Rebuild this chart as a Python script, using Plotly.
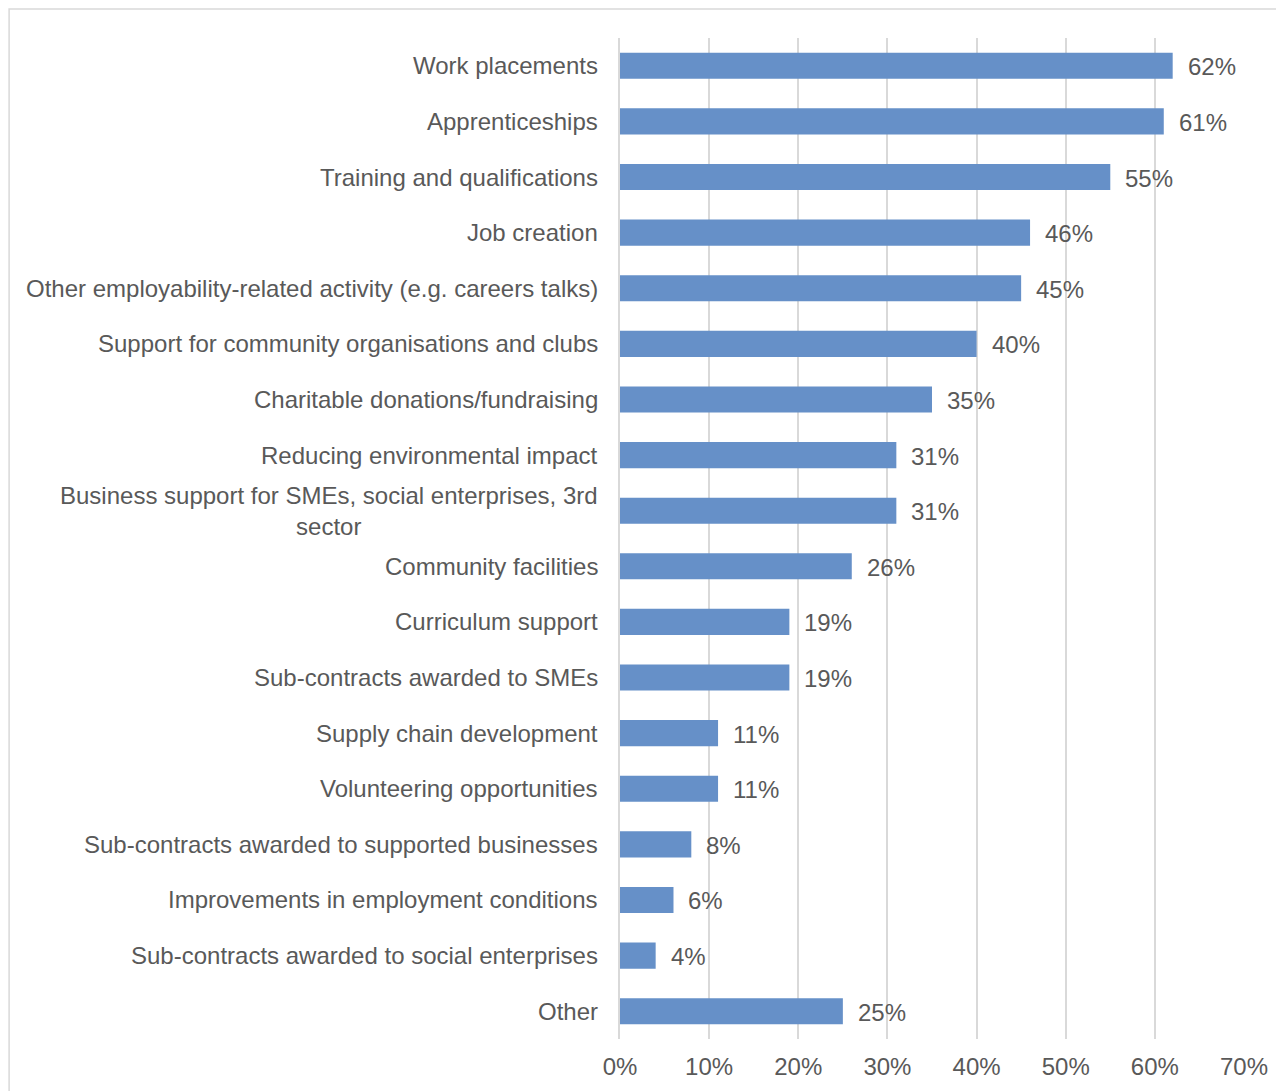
import plotly.graph_objects as go

categories = [
    "Work placements",
    "Apprenticeships",
    "Training and qualifications",
    "Job creation",
    "Other employability-related activity (e.g. careers talks)",
    "Support for community organisations and clubs",
    "Charitable donations/fundraising",
    "Reducing environmental impact",
    "Business support for SMEs, social enterprises, 3rd<br>sector",
    "Community facilities",
    "Curriculum support",
    "Sub-contracts awarded to SMEs",
    "Supply chain development",
    "Volunteering opportunities",
    "Sub-contracts awarded to supported businesses",
    "Improvements in employment conditions",
    "Sub-contracts awarded to social enterprises",
    "Other",
]
values = [62, 61, 55, 46, 45, 40, 35, 31, 31, 26, 19, 19, 11, 11, 8, 6, 4, 25]
x_ticks = [0, 10, 20, 30, 40, 50, 60, 70]

TEXT = "#595959"
FONT = "Liberation Sans, Arial, sans-serif"
FS = 24

fig = go.Figure(go.Bar(
    x=values,
    y=categories,
    orientation="h",
    marker=dict(color="#6690c8", line=dict(width=0)),
    hoverinfo="x+y",
))

# category labels (annotations so the wrapped one is centred like the original)
for cat in categories:
    fig.add_annotation(
        x=0, xref="paper", y=cat, yref="y",
        text=cat, showarrow=False,
        xanchor="right", yanchor="middle", align="center",
        xshift=-20,
        font=dict(family=FONT, size=FS, color=TEXT),
    )

# value labels
for cat, v in zip(categories, values):
    fig.add_annotation(
        x=v, y=cat, text=f"{v}%", showarrow=False,
        xanchor="left", yanchor="middle", xshift=13, yshift=-1,
        font=dict(family=FONT, size=FS, color=TEXT),
    )

# outer chart border (left and top visible)
fig.add_shape(
    type="rect", xref="paper", yref="paper",
    x0=-0.979, x1=1.1, y0=-0.08, y1=1.029,
    line=dict(color="#d9d9d9", width=1.5), layer="below",
)

fig.update_layout(
    width=1284, height=1091,
    margin=dict(l=612, r=48, t=30, b=60),
    paper_bgcolor="white", plot_bgcolor="white",
    bargap=0.53,
    showlegend=False,
    font=dict(family=FONT, size=FS, color=TEXT),
)
fig.update_xaxes(
    range=[0, 70],
    tickvals=x_ticks,
    ticktext=[f"{t}%" for t in x_ticks],
    showgrid=True, gridcolor="#d9d9d9", gridwidth=2,
    zeroline=False, showline=False,
    ticks="outside", ticklen=6, tickcolor="white",
    tickfont=dict(family=FONT, size=FS, color=TEXT),
    fixedrange=True,
)
fig.update_yaxes(
    autorange="reversed",
    showticklabels=False,
    showgrid=False, zeroline=False,
    showline=True, linecolor="#d9d9d9", linewidth=2,
    fixedrange=True,
)

fig.write_html("out.html")
